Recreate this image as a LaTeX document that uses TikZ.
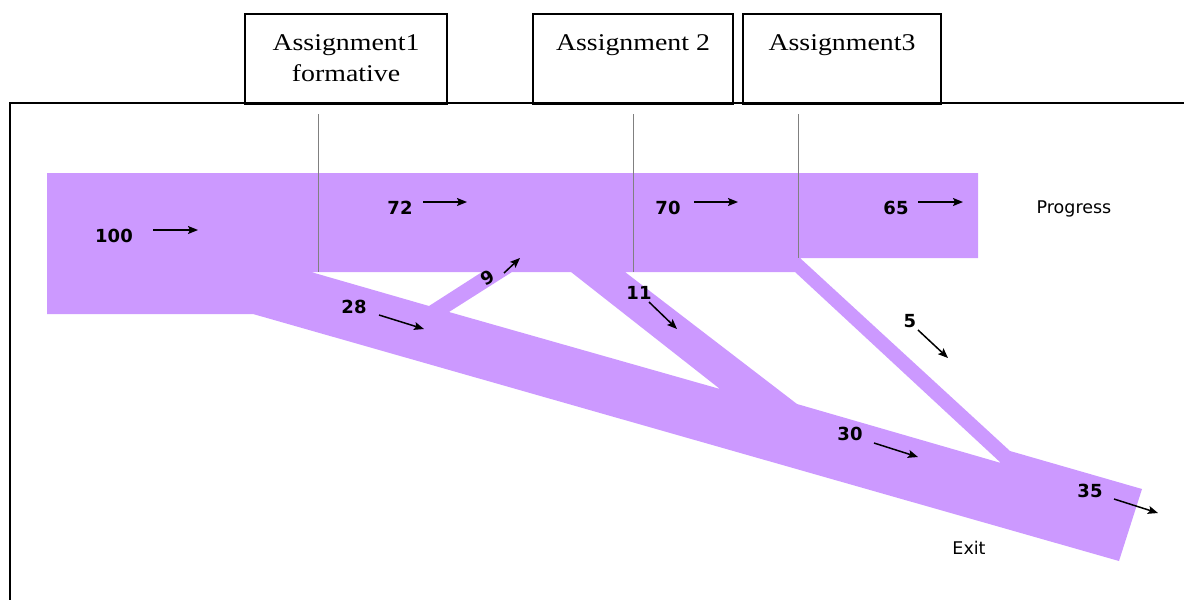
\documentclass[tikz,border=0pt]{standalone}
\usepackage{fontspec}
\setmainfont{DejaVu Sans}
\newfontfamily\boxfont[FakeStretch=1.16]{Liberation Serif}
\usetikzlibrary{arrows.meta}
\definecolor{flowpurple}{HTML}{CC99FF}
\definecolor{guidegray}{HTML}{808080}
\begin{document}
\begin{tikzpicture}[x=1pt,y=-1pt,
  assignbox/.style={draw, line width=2pt, inner sep=0pt, minimum height=90pt,
    anchor=north, font=\boxfont\fontsize{24}{31}\selectfont, align=center},
  topalign/.style={text height=36pt, text depth=54pt},
  frameline/.style={line width=2.5pt},
  guideline/.style={draw=guidegray, line width=1pt},
  flowarrow/.style={-{Stealth[length=10pt,width=8pt,inset=2pt]}, line width=1.5pt},
  numlabel/.style={font=\bfseries\fontsize{18}{20}\selectfont, anchor=base, inner sep=0pt},
  wordlabel/.style={font=\fontsize{17.5}{20}\selectfont, anchor=base, inner sep=0pt}]
\useasboundingbox (0,0) rectangle (1184,600);

% flow bands (with holes)
\fill[flowpurple, even odd rule]
  (47,173) -- (978,173) -- (978,258) -- (800,258) -- (1010,451) -- (1142,489)
  -- (1119,561) -- (253,314) -- (47,314) -- cycle
  (311,272) -- (482,272) -- (429,306) -- cycle
  (512,272) -- (571,272) -- (720,389) -- (449,312) -- cycle
  (625,272) -- (795,272) -- (1001,463) -- (797,404) -- cycle;

% frame
\coordinate (frameR) at (1184,103);
\coordinate (frameTL) at (10,103);
\coordinate (frameB) at (10,600);
\draw[frameline] (frameR) -- (frameTL) -- (frameB);

% assignment boxes
\node[assignbox, minimum width=202pt, text height=67pt, text depth=23pt] (a1) at (346,13) {Assignment1\\formative};
\node[assignbox, topalign, minimum width=200pt] (a2) at (633,13) {Assignment 2};
\node[assignbox, topalign, minimum width=198pt] (a3) at (842,13) {Assignment3};

% guide lines
\coordinate (g1t) at (318,114); \coordinate (g1b) at (318,272);
\coordinate (g2t) at (633,114); \coordinate (g2b) at (633,272);
\coordinate (g3t) at (798,114); \coordinate (g3b) at (798,258);
\draw[guideline] (g1t) -- (g1b);
\draw[guideline] (g2t) -- (g2b);
\draw[guideline] (g3t) -- (g3b);

% labels
\node[numlabel] (n100) at (114,242) {100};
\node[numlabel] (n72) at (400,214) {72};
\node[numlabel] (n70) at (668,214) {70};
\node[numlabel] (n65) at (896,214) {65};
\node[numlabel, rotate=30] (n9) at (491,283) {9};
\node[numlabel] (n28) at (354,313) {28};
\node[numlabel] (n11) at (639,299) {11};
\node[numlabel] (n5) at (910,327) {5};
\node[numlabel] (n30) at (850,440) {30};
\node[numlabel] (n35) at (1090,497) {35};
\node[wordlabel] (prog) at (1074,213) {Progress};
\node[wordlabel] (exit) at (969,554) {Exit};

% arrows
\coordinate (r100s) at (153,230); \coordinate (r100e) at (198,230);
\coordinate (r72s) at (423,202); \coordinate (r72e) at (467,202);
\coordinate (r70s) at (694,202); \coordinate (r70e) at (738,202);
\coordinate (r65s) at (918,202); \coordinate (r65e) at (963,202);
\coordinate (r9s) at (504,273); \coordinate (r9e) at (520,258);
\coordinate (r28s) at (379,315); \coordinate (r28e) at (424,329);
\coordinate (r11s) at (649,302); \coordinate (r11e) at (677,329);
\coordinate (r5s) at (918,330); \coordinate (r5e) at (948,358);
\coordinate (r30s) at (874,443); \coordinate (r30e) at (918,457);
\coordinate (r35s) at (1114,499); \coordinate (r35e) at (1158,513);
\draw[flowarrow] (r100s) -- (r100e);
\draw[flowarrow] (r72s) -- (r72e);
\draw[flowarrow] (r70s) -- (r70e);
\draw[flowarrow] (r65s) -- (r65e);
\draw[flowarrow] (r9s) -- (r9e);
\draw[flowarrow] (r28s) -- (r28e);
\draw[flowarrow] (r11s) -- (r11e);
\draw[flowarrow] (r5s) -- (r5e);
\draw[flowarrow] (r30s) -- (r30e);
\draw[flowarrow] (r35s) -- (r35e);
\end{tikzpicture}
\end{document}
